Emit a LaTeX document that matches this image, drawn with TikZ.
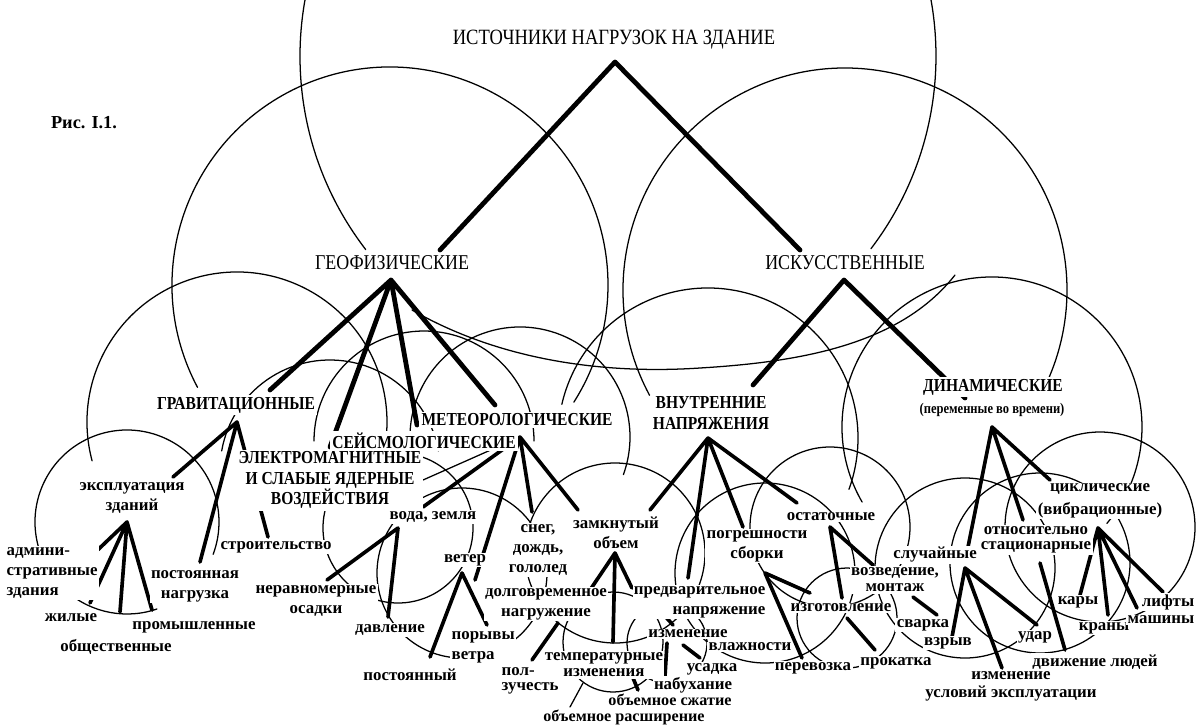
\documentclass[tikz,border=0pt]{standalone}
\usepackage{fontspec}
\setmainfont{Liberation Serif}
\newfontfamily\capsfont[FakeStretch=0.85]{Liberation Serif}
\begin{document}
\begin{tikzpicture}[x=0.025cm,y=-0.025cm,line join=round,line cap=round,
	lbl/.style={font=\bfseries\fontsize{12}{14}\selectfont,fill=white,inner sep=1pt,align=center},
	capsbox/.style={font=\capsfont\fontsize{13}{14.5}\selectfont,fill=white,inner sep=1.5pt,align=center},
	capsbold/.style={capsbox,font=\capsfont\bfseries\fontsize{13}{14.5}\selectfont},
	trunk/.style={line width=3.4pt},
	branch/.style={line width=2.6pt},
	sphere/.style={line width=0.9pt}]
		\useasboundingbox (0,0) rectangle (1196,724);
		\clip (0,0) rectangle (1196,724);
		\def\ring(#1,#2,#3,#4,#5){\draw[sphere] (#1,#2) ++(#4:#3) arc[start angle=#4,end angle=#5,radius=#3];}
		% spheres round the nodes
		\ring(618,56,318,142.5,397.3)
		\draw[sphere] (412,310) .. controls (520,372) and (640,372) .. (700,368) .. controls (800,362) and (900,345) .. (955,275);
		\ring(390,285,218,152,392.5)
		\ring(845,290,222,151.7,383.8)
		\ring(237,422,150,165,375)
		\ring(330,470,110,190,350)
		\ring(424,441,110,180,360)
		\ring(520,437,110,160,380)
		\ring(708,438,150,193,380)
		\ring(992,427,150,150,400)
		\ring(127,522,92,162.5,380.6)
		\ring(127,522,92,71,130.6)
		\ring(398,528,75,0,360)
		\ring(462,573,85,0,360)
		\ring(615,553,90,0,360)
		\ring(765,573,90,0,360)
		\ring(830,527,80,0,360)
		\ring(965,568,90,0,360)
		\ring(1040,563,90,0,360)
		\ring(1100,527,95,0,360)
		\ring(847,618,50,0,360)
		\ring(613,642,50,0,360)
		\ring(667,643,40,0,360)
		% apexes
		\coordinate (src-a) at (615,62);
		\coordinate (geo-a) at (391,280);
		\coordinate (art-a) at (844,280);
		\coordinate (grav-a) at (237,422);
		\coordinate (meteo-a) at (520,437);
		\coordinate (inner-a) at (708,438);
		\coordinate (dyn-a) at (992,427);
		\coordinate (use-a) at (127,522);
		\coordinate (water-a) at (398,528);
		\coordinate (wind-a) at (462,573);
		\coordinate (closed-a) at (615,553);
		\coordinate (long-a) at (558,623);
		\coordinate (prest-a) at (655,605);
		\coordinate (moist-a) at (667,643);
		\coordinate (temp-a) at (613,642);
		\coordinate (temp-l) at (557,673);
		\coordinate (temp-r) at (633,678);
		\coordinate (temp-d) at (583,683);
		\coordinate (moist-r) at (683,645);
		\coordinate (error-a) at (765,573);
		\coordinate (resid-a) at (830,527);
		\coordinate (make-a) at (847,618);
		\coordinate (erect-a) at (913,597);
		\coordinate (rand-a) at (965,568);
		\coordinate (stat-a) at (1040,563);
		\coordinate (cyc-a) at (1098,528);
		\coordinate (elec-r) at (423,480);
		% ends
		\coordinate (geo-e) at (440,250);
		\coordinate (art-e) at (800,250);
		\coordinate (grav-e) at (270,390);
		\coordinate (elec-e) at (330,447);
		\coordinate (seis-e) at (417,425);
		\coordinate (meteo-e) at (495,405);
		\coordinate (inner-e) at (753,385);
		\coordinate (dyn-e) at (965,398);
		\coordinate (use-e) at (173,477);
		\coordinate (const-e) at (200,562);
		\coordinate (build-e) at (268,537);
		\coordinate (water-e) at (423,507);
		\coordinate (wind-e) at (475,580);
		\coordinate (snow-e) at (532,512);
		\coordinate (closed-e) at (578,510);
		\coordinate (closed-f) at (650,510);
		\coordinate (prest-e) at (688,578);
		\coordinate (prest-f) at (632,588);
		\coordinate (error-e) at (743,527);
		\coordinate (resid-e) at (797,503);
		\coordinate (rand-e) at (968,547);
		\coordinate (stat-e) at (1023,520);
		\coordinate (cyc-e) at (1050,480);
		\coordinate (admin-e) at (84,563);
		\coordinate (res-e) at (90,603);
		\coordinate (ind-e) at (120,612);
		\coordinate (pub-e) at (152,610);
		\coordinate (settl-e) at (327,580);
		\coordinate (press-e) at (388,617);
		\coordinate (steady-e) at (430,657);
		\coordinate (gust-e) at (487,625);
		\coordinate (long-e) at (590,590);
		\coordinate (temp-e) at (532,660);
		\coordinate (creep-e) at (533,673);
		\coordinate (comp-e) at (638,690);
		\coordinate (expan-e) at (570,707);
		\coordinate (moist-e) at (673,625);
		\coordinate (swell-e) at (665,676);
		\coordinate (shrink-e) at (700,658);
		\coordinate (make-e) at (810,593);
		\coordinate (make-f) at (842,598);
		\coordinate (transp-e) at (802,658);
		\coordinate (erect-e) at (873,565);
		\coordinate (roll-e) at (875,650);
		\coordinate (weld-e) at (937,615);
		\coordinate (blast-e) at (952,637);
		\coordinate (change-e) at (1002,668);
		\coordinate (impact-e) at (1037,625);
		\coordinate (walk-e) at (1065,650);
		\coordinate (carts-e) at (1080,595);
		\coordinate (cranes-e) at (1108,615);
		\coordinate (mach-e) at (1137,608);
		\coordinate (lifts-e) at (1163,592);
		% tree
		\draw[trunk] (geo-e) -- (src-a) -- (art-e);
		\draw[trunk] (geo-a) -- (grav-e) (geo-a) -- (elec-e) (geo-a) -- (seis-e) (geo-a) -- (meteo-e);
		\draw[trunk] (art-a) -- (inner-e) (art-a) -- (dyn-e);
		\draw[branch] (grav-a) -- (use-e) (grav-a) -- (const-e) (grav-a) -- (build-e);
		\draw[branch] (meteo-a) -- (water-e) (meteo-a) -- (wind-e) (meteo-a) -- (snow-e) (meteo-a) -- (closed-e);
		\draw[sphere] (elec-r) -- (meteo-a);
		\draw[branch] (inner-a) -- (closed-f) (inner-a) -- (prest-e) (inner-a) -- (error-e) (inner-a) -- (resid-e);
		\draw[branch] (dyn-a) -- (rand-e) (dyn-a) -- (stat-e) (dyn-a) -- (cyc-e);
		\draw[branch] (use-a) -- (admin-e) (use-a) -- (res-e) (use-a) -- (ind-e) (use-a) -- (pub-e);
		\draw[branch] (water-a) -- (settl-e) (water-a) -- (press-e);
		\draw[branch] (wind-a) -- (steady-e) (wind-a) -- (gust-e);
		\draw[branch] (closed-a) -- (long-e) (closed-a) -- (temp-a) (closed-a) -- (prest-f);
		\draw[branch] (long-a) -- (temp-e);
		\draw[branch] (temp-l) -- (creep-e) (temp-r) -- (comp-e);
		\draw[sphere] (temp-d) -- (expan-e);
		\draw[branch] (prest-a) -- (moist-e);
		\draw[branch] (moist-a) -- (swell-e) (moist-r) -- (shrink-e);
		\draw[branch] (error-a) -- (make-e) (error-a) -- (transp-e);
		\draw[branch] (resid-a) -- (make-f) (resid-a) -- (erect-e);
		\draw[branch] (make-a) -- (roll-e);
		\draw[branch] (erect-a) -- (weld-e);
		\draw[branch] (rand-a) -- (blast-e) (rand-a) -- (change-e) (rand-a) -- (impact-e);
		\draw[branch] (stat-a) -- (walk-e);
		\draw[branch] (cyc-a) -- (carts-e) (cyc-a) -- (cranes-e) (cyc-a) -- (mach-e) (cyc-a) -- (lifts-e);
		% labels
		\node[capsbox,font=\capsfont\fontsize{15.5}{16}\selectfont] (src) at (614,40) {ИСТОЧНИКИ НАГРУЗОК НА ЗДАНИЕ};
		\node[font=\bfseries\fontsize{13}{14}\selectfont] (fig) at (84,123) {Рис. I.1.};
		\node[capsbox,font=\capsfont\fontsize{15}{16}\selectfont] (geo) at (392,263) {ГЕОФИЗИЧЕСКИЕ};
		\node[capsbox,font=\capsfont\fontsize{15}{16}\selectfont] (art) at (845,263) {ИСКУССТВЕННЫЕ};
		\node[capsbold] (grav) at (236,405) {ГРАВИТАЦИОННЫЕ};
		\node[capsbold] (elec) at (330,480) {ЭЛЕКТРОМАГНИТНЫЕ\\И СЛАБЫЕ ЯДЕРНЫЕ\\ВОЗДЕЙСТВИЯ};
		\node[capsbold] (seis) at (424,441) {СЕЙСМОЛОГИЧЕСКИЕ};
		\node[capsbold] (meteo) at (517,420) {МЕТЕОРОЛОГИЧЕСКИЕ};
		\node[capsbold] (inner) at (711,413) {ВНУТРЕННИЕ\\НАПРЯЖЕНИЯ};
		\node[capsbold] (dyn) at (993,387) {ДИНАМИЧЕСКИЕ};
		\node[capsbox,font=\capsfont\bfseries\fontsize{10.5}{12}\selectfont] (dyn-t) at (992,410) {(переменные во времени)};
		\node[lbl] (use) at (132,498) {эксплуатация\\зданий};
		\node[lbl,align=left,anchor=west] (admin) at (5,573) {админи-\\стративные\\здания};
		\node[lbl] (res) at (71,618) {жилые};
		\node[lbl] (ind) at (194,627) {промышленные};
		\node[lbl] (pub) at (116,647) {общественные};
		\node[lbl] (const) at (195,586) {постоянная\\нагрузка};
		\node[lbl] (build) at (276,547) {строительство};
		\node[lbl] (settl) at (316,601) {неравномерные\\осадки};
		\node[lbl] (water) at (433,517) {вода, земля};
		\node[lbl] (wind) at (465,560) {ветер};
		\node[lbl] (snow) at (538,550) {снег,\\дождь,\\гололед};
		\node[lbl] (closed) at (616,533) {замкнутый\\объем};
		\node[lbl] (error) at (757,546) {погрешности\\сборки};
		\node[lbl] (resid) at (831,517) {остаточные};
		\node[lbl] (long) at (546,604) {долговременное\\нагружение};
		\node[lbl,align=right,anchor=east] (prest) at (767,602) {предварительное\\напряжение};
		\node[lbl] (press) at (390,630) {давление};
		\node[lbl,align=left,anchor=west] (gust) at (450,647) {порывы\\ветра};
		\node[lbl] (steady) at (410,675) {постоянный};
		\node[lbl] (moist) at (688,634) {изменение};
		\node[lbl] (moist-b) at (750,647) {влажности};
		\node[lbl,font=\bfseries\fontsize{12}{11.5}\selectfont] (temp) at (604,665) {температурные\\изменения};
		\node[lbl,align=left,anchor=west,font=\bfseries\fontsize{12}{11}\selectfont] (creep) at (500,681) {пол-\\зучесть};
		\node[lbl] (shrink) at (712,669) {усадка};
		\node[lbl] (swell) at (693,685) {набухание};
		\node[lbl,inner sep=0pt,font=\bfseries\fontsize{11.5}{12}\selectfont] (comp) at (670,700) {объемное сжатие};
		\node[lbl,inner sep=0pt,font=\bfseries\fontsize{11.5}{12}\selectfont] (expan) at (624,717) {объемное расширение};
		\node[lbl] (make) at (841,608) {изготовление};
		\node[lbl,font=\bfseries\fontsize{12}{11.5}\selectfont] (erect) at (895,580) {возведение,\\монтаж};
		\node[lbl] (transp) at (813,668) {перевозка};
		\node[lbl] (roll) at (896,663) {прокатка};
		\node[lbl] (weld) at (923,625) {сварка};
		\node[lbl] (rand) at (935,555) {случайные};
		\node[lbl,font=\bfseries\fontsize{12}{11}\selectfont] (stat) at (1036,540) {относительно\\стационарные};
		\node[lbl,font=\bfseries\fontsize{12}{16}\selectfont] (cyc) at (1100,501) {циклические\\(вибрационные)};
		\node[lbl] (blast) at (948,643) {взрыв};
		\node[lbl] (impact) at (1035,637) {удар};
		\node[lbl,font=\bfseries\fontsize{12}{13}\selectfont] (change) at (1011,686) {изменение\\условий эксплуатации};
		\node[lbl] (walk) at (1095,662) {движение людей};
		\node[lbl] (carts) at (1078,602) {кары};
		\node[lbl] (cranes) at (1104,628) {краны};
		\node[lbl] (lifts) at (1168,602) {лифты};
		\node[lbl] (mach) at (1161,620) {машины};
		\end{tikzpicture}
\end{document}
